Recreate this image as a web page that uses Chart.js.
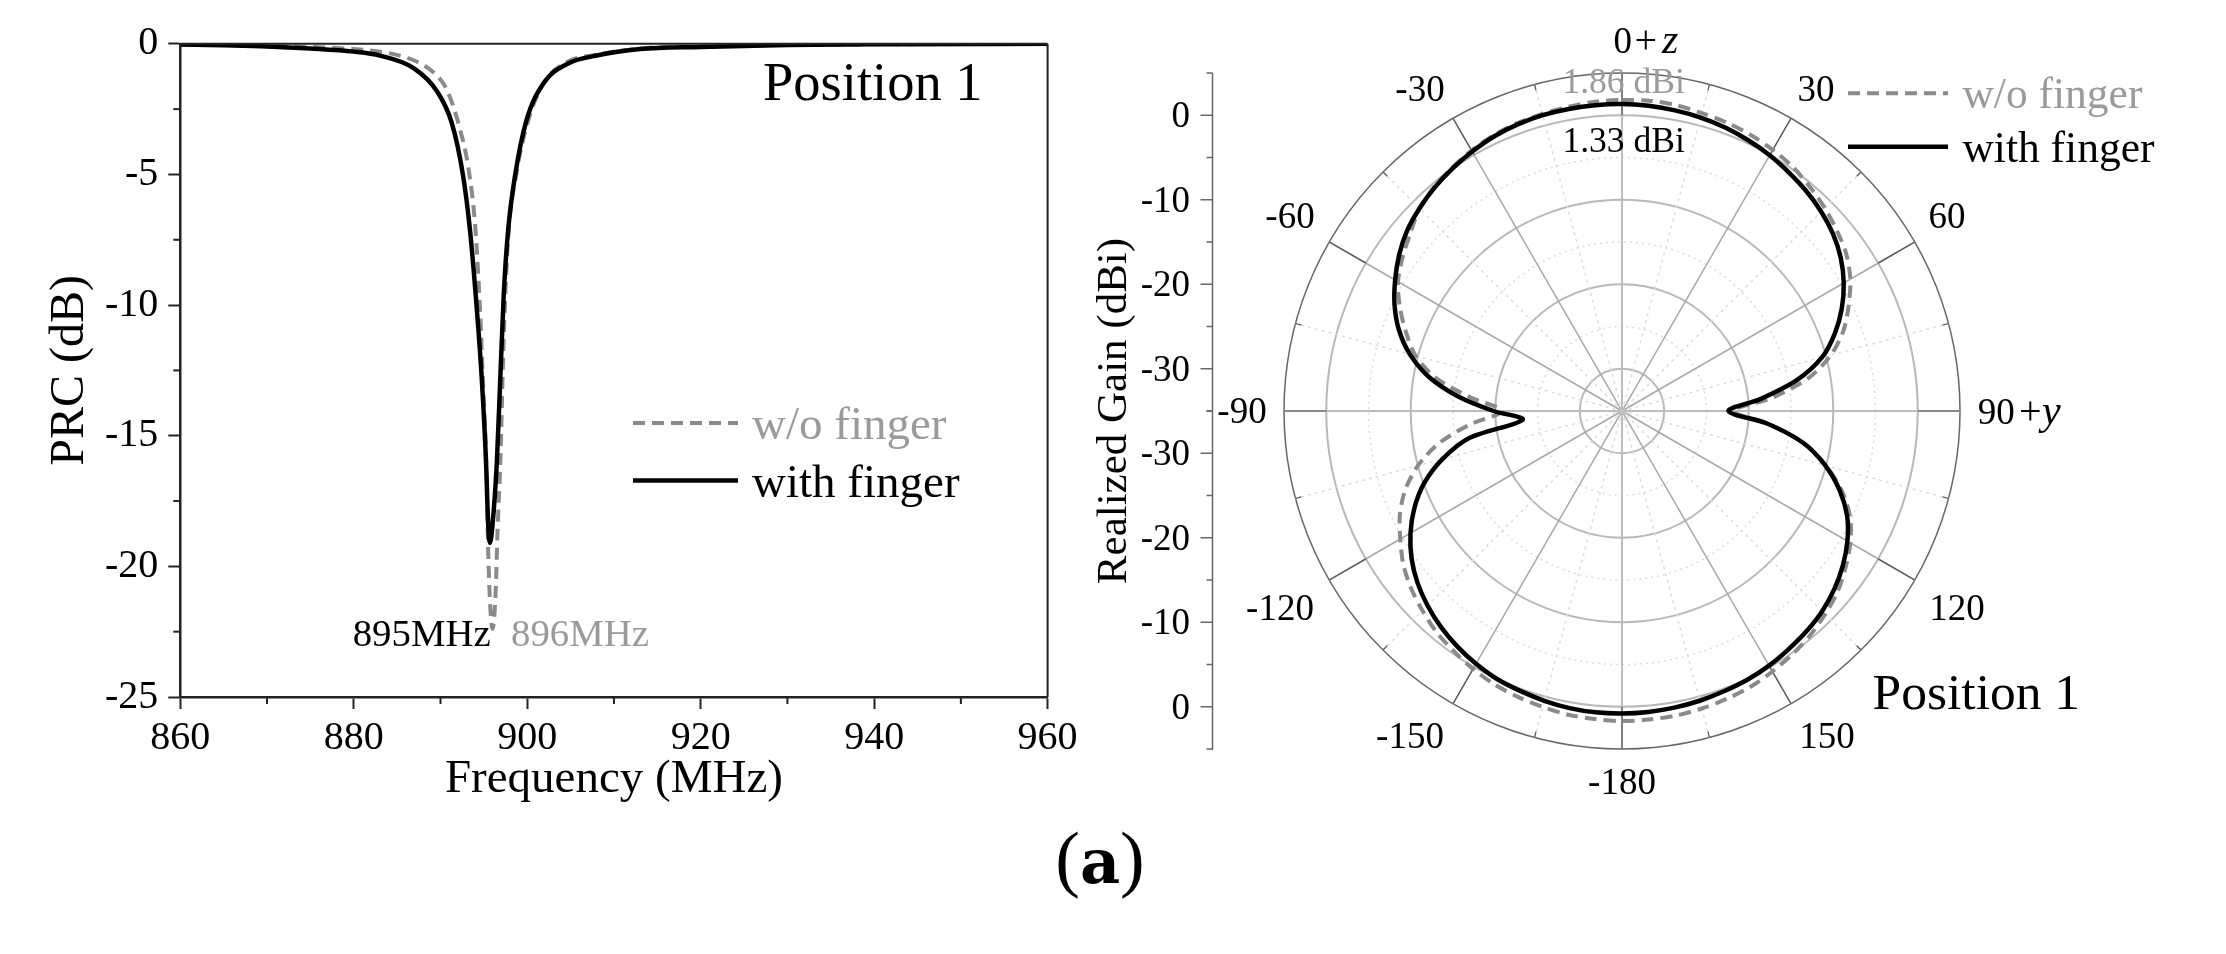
<!DOCTYPE html>
<html><head><meta charset="utf-8">
<style>
html,body{margin:0;padding:0;background:#fff;width:2226px;height:954px;overflow:hidden}
canvas{position:absolute;top:0}
#caption{position:absolute;left:1000px;width:200px;top:814px;text-align:center;font:400 74px "Liberation Serif",serif;color:#000;line-height:88px}
#caption b{font-family:"DejaVu Serif","Liberation Serif",serif;font-size:62px}
</style>
<script src="https://cdn.jsdelivr.net/npm/chart.js@4/dist/chart.umd.js"></script>
</head><body>
<canvas id="prc" width="1090" height="954" style="left:0;width:1090px;height:954px"></canvas>
<canvas id="pat" width="1136" height="954" style="left:1090px;width:1136px;height:954px"></canvas>
<div id="caption">(<b>a</b>)</div>
<script>
// ---------- PRC data (frequency MHz, dB) ----------
const prcFreqWith = [860,865,870,875,880,883,886.9,889.6,891.3,892.6,893.4,894.2,894.75,895.25,895.5,895.7,896,896.5,896.9,897.3,897.8,898.6,899.9,901.9,904.6,908,913,920,930,940,960];
const prcWith     = [-0.03,-0.06,-0.1,-0.18,-0.3,-0.45,-0.93,-1.82,-3.03,-5.04,-7.13,-10.2,-12.77,-16,-18.4,-19.1,-18.4,-16,-12.77,-9.55,-7.13,-5.04,-2.95,-1.5,-0.77,-0.45,-0.2,-0.12,-0.05,-0.02,0];
const prcFreqWo   = [860,865,870,875,880,883,885.3,887.3,889.2,890.7,892.25,893.2,894,894.56,894.94,895.25,895.5,895.7,896,896.4,896.55,896.9,897.3,897.8,898.8,900.1,901.9,904.6,908,913,920,930,940,960];
const prcWo       = [-0.02,-0.04,-0.08,-0.12,-0.2,-0.3,-0.45,-0.69,-1.1,-1.74,-3.27,-4.72,-6.97,-10.2,-13.25,-15.67,-19.4,-21.3,-22.4,-20.66,-18.9,-16,-11.16,-7.46,-4.88,-2.95,-1.5,-0.7,-0.42,-0.18,-0.1,-0.04,-0.02,0];
const prcXMinor = [870,890,910,930,950];
const prcYMinor = [-2.5,-7.5,-12.5,-17.5,-22.5];
// ---------- pattern data (angle deg clockwise from +z, realized gain dBi) ----------
const patAngles = [0,5,10,15,20,25,30,35,40,45,50,55,60,65,70,75,80,85,90,95,100,105,110,115,120,125,130,135,140,145,150,155,160,165,170,175,180,185,190,195,200,205,210,215,220,225,230,235,240,245,250,255,260,265,270,275,280,285,290,295,300,305,310,315,320,325,330,335,340,345,350,355];
const patWith = [1.33,1.25,1.12,0.95,0.7,0.35,-0.05,-0.55,-1.05,-1.65,-2.4,-3.4,-4.7,-6.3,-8.2,-10.5,-14,-18.5,-22.4,-17.7,-13.2,-10.1,-7.6,-5.6,-4.2,-3.1,-2.2,-1.5,-1,-0.6,-0.2,0.1,0.3,0.5,0.65,0.75,0.8,0.8,0.7,0.5,0.25,0,-0.45,-1,-1.65,-2.45,-3.4,-4.6,-6.1,-7.9,-10.1,-13,-16.7,-23.2,-19.8,-15.6,-11.8,-9,-6.9,-5.3,-4,-2.8,-1.8,-1.1,-0.5,0,0.45,0.85,1.1,1.25,1.3,1.33];
const patWo = [1.8,1.86,1.75,1.5,1.3,1.05,0.68,0.25,-0.4,-1.05,-1.8,-2.6,-3.8,-5.4,-7.1,-9.4,-12.6,-17.2,-21.8,-17.7,-13.2,-10,-7.3,-5.2,-3.8,-2.7,-1.7,-1,-0.35,0.15,0.6,1,1.25,1.45,1.6,1.65,1.7,1.6,1.5,1.25,1,0.7,0.25,-0.3,-0.85,-1.6,-2.4,-3.4,-4.7,-6,-7.7,-10,-13,-17,-20.8,-17.1,-12.7,-9.7,-7.8,-6,-4.4,-3.3,-2.3,-1.1,-0.4,0.1,0.6,1,1.25,1.4,1.55,1.75];
const patAxisMajor = [0,-10,-20,-30];
const patAngleLabels = ['30','60','120','150','-180','-150','-120','-90','-60','-30'];
const labelOffsetX = [194,325,335,205,0,-212,-342,-380,-332,-202];
const labelOffsetY = [-322,-195,197,325,371,325,197,0,-195,-322];

const SERIF = '"Liberation Serif","Times New Roman",serif';
const GREY = '#8a8a8a', TXT_GREY = '#9a9a9a';
function txt(c,s,x,y,size,color,align,italic){
  c.save();c.font=(italic?'italic ':'')+size+'px '+SERIF;c.fillStyle=color||'#000';c.textAlign=align||'left';c.textBaseline='alphabetic';c.fillText(s,x,y);c.restore();
}
function seg(c,x1,y1,x2,y2,color,w,dash){
  c.save();c.beginPath();c.strokeStyle=color;c.lineWidth=w;c.setLineDash(dash||[]);c.moveTo(x1,y1);c.lineTo(x2,y2);c.stroke();c.restore();
}
Chart.defaults.font.family = SERIF;

// ---------- left chart ----------
const prcDecor = {id:'prcDecor',afterDraw(ch){
  const c=ch.ctx,{left,right,top,bottom}=ch.chartArea,sx=ch.scales.x,sy=ch.scales.y;
  seg(c,left,top,right,top,'#222',2);seg(c,right,top,right,bottom,'#222',2);
  prcXMinor.forEach(v=>{const p=sx.getPixelForValue(v);seg(c,p,bottom,p,bottom+7,'#222',2);});
  prcYMinor.forEach(v=>{const p=sy.getPixelForValue(v);seg(c,left-7,p,left,p,'#222',2);});
  txt(c,'Position 1',763,100,54.5);
  seg(c,633,423,738,423,GREY,4,[12,7]);txt(c,'w/o finger',752,439,47,TXT_GREY);
  seg(c,633,480.5,738,480.5,'#000',4.5);txt(c,'with finger',752,497,47);
  txt(c,'895MHz',352.7,646,38.8);txt(c,'896MHz',511,646,38.8,TXT_GREY);
}};
new Chart(document.getElementById('prc'),{
  type:'scatter',
  data:{datasets:[
    {label:'with finger',data:prcFreqWith.map((x,i)=>({x,y:prcWith[i]})),showLine:true,borderColor:'#000',borderWidth:4.5,pointRadius:0,cubicInterpolationMode:'monotone',order:1},
    {label:'w/o finger',data:prcFreqWo.map((x,i)=>({x,y:prcWo[i]})),showLine:true,borderColor:GREY,borderWidth:4,borderDash:[12,7],pointRadius:0,cubicInterpolationMode:'monotone',order:2}
  ]},
  plugins:[prcDecor],
  options:{responsive:false,animation:false,events:[],
    layout:{padding:{left:42,top:43.8,right:42.4,bottom:146}},
    plugins:{legend:{display:false},tooltip:{enabled:false}},
    scales:{
      x:{type:'linear',min:860,max:960,
        grid:{drawOnChartArea:false,drawTicks:true,tickLength:12,tickColor:'#222',tickWidth:2},
        border:{color:'#222',width:2.5},
        ticks:{stepSize:20,maxRotation:0,color:'#000',font:{size:40,family:SERIF},padding:5},
        title:{display:true,text:'Frequency (MHz)',color:'#000',font:{size:47,family:SERIF},padding:0},
        afterFit(s){s.height=111;}},
      y:{type:'linear',min:-25,max:0,
        grid:{drawOnChartArea:false,drawTicks:true,tickLength:12,tickColor:'#222',tickWidth:2},
        border:{color:'#222',width:2.5},
        ticks:{stepSize:5,color:'#000',font:{size:40,family:SERIF},padding:10},
        title:{display:true,text:'PRC (dB)',color:'#000',font:{size:48,family:SERIF},padding:0},
        afterFit(s){s.width=138.3;}}
    }}
});

// ---------- right chart ----------
const patDecor = {id:'patDecor',
 beforeDatasetsDraw(ch){
  const c=ch.ctx,s=ch.scales.r,cx=s.xCenter,cy=s.yCenter,R=s.getDistanceFromCenterForValue(5),R0=s.getDistanceFromCenterForValue(0);
  patAngles.forEach(a=>{
    if(a%15) return;
    const rad=a*Math.PI/180,sn=Math.sin(rad),cs=-Math.cos(rad);
    const inner=a%30?R-6:R0;
    seg(c,cx+inner*sn,cy+inner*cs,cx+R*sn,cy+R*cs,'#555',1.2);
  });
 },
 afterDraw(ch){
  const c=ch.ctx,s=ch.scales.r,cx=s.xCenter,cy=s.yCenter,R=s.getDistanceFromCenterForValue(5);
  patAngleLabels.forEach((t,i)=>{
    txt(c,t,cx+labelOffsetX[i],cy+labelOffsetY[i]+12,37,'#000','center');
  });
  // +z / +y labels
  txt(c,'0',523.5,53,37);txt(c,'+',544.5,53,40);txt(c,'z',572,53,42,'#000','left',true);
  txt(c,'90',887.7,424,37);txt(c,'+',929,424,40);txt(c,'y',952,424,42,'#000','left',true);
  txt(c,'1.86 dBi',472.4,93,35.6,TXT_GREY);txt(c,'1.33 dBi',472.4,151.7,35.6);
  seg(c,758,93.3,858,93.3,GREY,4,[12,7]);txt(c,'w/o finger',872.4,108,43.5,TXT_GREY);
  seg(c,758,146.7,858,146.7,'#000',4.5);txt(c,'with finger',872.4,161.7,43.5);
  txt(c,'Position 1',782.6,708.6,51.5);
  // left radial axis, mirrored about the centre
  const ax=122.5;
  seg(c,ax,cy-R,ax,cy+R+1,'#666',1.5);
  for(let v=5;v>=-35;v-=5){
    const d=s.getDistanceFromCenterForValue(v),major=patAxisMajor.includes(v);
    [-1,1].forEach(k=>{
      const y=cy+k*d;
      seg(c,ax-(major?12:6),y,ax,y,'#666',1.5);
      if(major) txt(c,String(v),100,y+12,37,'#000','right');
    });
  }
  c.save();c.translate(22,cy);c.rotate(-Math.PI/2);txt(c,'Realized Gain (dBi)',0,14,43,'#000','center');c.restore();
 }};
new Chart(document.getElementById('pat'),{
  type:'radar',
  data:{labels:patAngles.map(String),datasets:[
    {label:'with finger',data:patWith,borderColor:'#000',borderWidth:4.5,pointRadius:0,fill:false,tension:0.3,order:1},
    {label:'w/o finger',data:patWo,borderColor:GREY,borderWidth:4,borderDash:[12,7],pointRadius:0,fill:false,tension:0.3,order:2}
  ]},
  plugins:[patDecor],
  options:{responsive:false,animation:false,events:[],
    layout:{padding:{left:194,right:265,top:73,bottom:204}},
    plugins:{legend:{display:false},tooltip:{enabled:false}},
    scales:{r:{min:-35,max:5,
      ticks:{display:false,stepSize:5},
      pointLabels:{display:false},
      grid:{circular:true,
        color:ctx=>{const v=ctx.tick.value;return v===5?'#666':(v%10===0?'#b8b8b8':'#dcdcdc');},
        lineWidth:ctx=>{const v=ctx.tick.value;return v===5?1.5:(v%10===0?2:1.5);}},
      border:{dash:ctx=>(ctx.tick.value%10===0||ctx.tick.value===5)?[]:[2,4]},
      angleLines:{display:true,
        color:ctx=>{const a=patAngles[ctx.index];return a%90===0?'#bdbdbd':(a%30===0?'#a8a8a8':(a%15===0?'#dcdcdc':'rgba(0,0,0,0)'));},
        lineWidth:ctx=>{const a=patAngles[ctx.index];return a%15?0:(a%90===0?2:(a%30===0?1.5:1.5));},
        borderDash:ctx=>patAngles[ctx.index]%30===0?[]:[3,4]}
    }}
  }
});
</script>
</body></html>
